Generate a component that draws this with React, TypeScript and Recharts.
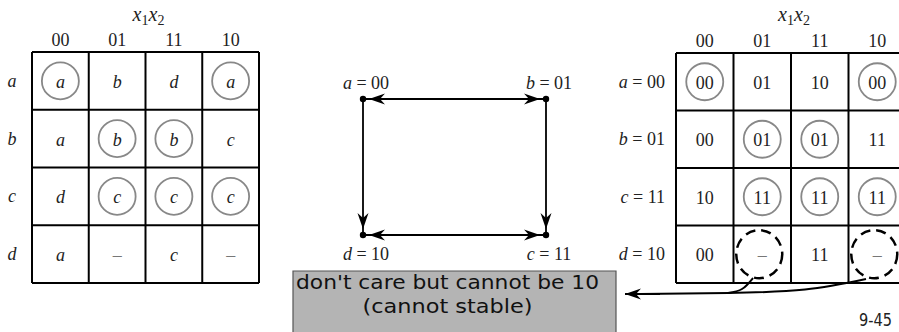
import { ScatterChart, Scatter, XAxis, YAxis, ReferenceLine, ReferenceArea } from "recharts";

// column heads (x1x2) and state codes, Gray-code order
const columnCodes = ["00", "01", "11", "10"];
const states = ["a", "b", "c", "d"];
const stateCodes = ["00", "01", "11", "10"];

// primitive flow table (next state)
const flowTable = [
  ["a", "b", "d", "a"],
  ["a", "b", "b", "c"],
  ["d", "c", "c", "c"],
  ["a", "–", "c", "–"],
];

// same table after state assignment
const assignedTable = [
  ["00", "01", "10", "00"],
  ["00", "01", "01", "11"],
  ["10", "11", "11", "11"],
  ["00", "–", "11", "–"],
];

// transition diagram edges drawn in the figure (arrow at "to")
const transitions = [
  ["a", "b"],
  ["b", "a"],
  ["a", "d"],
  ["b", "c"],
  ["d", "c"],
  ["c", "d"],
];

const noteLines = ["don't care but cannot be 10", "(cannot stable)"];
const pageNumber = "9-45";

// ---- layout (slide units = pixels) ----
const W = 899;
const H = 332;
const LEFT_MAP = { x: 32, y: 52, cw: 56.75, rh: 57.75, labelX: 12 };
const RIGHT_MAP = { x: 676, y: 53, cw: 57.5, rh: 57.5, labelX: 665 };
const GRAPH = { x: [363, 546], y: [99, 235] };
const NOTE = { x1: 293, x2: 616, y1: 271, y2: 334 };
const SERIF = "'Liberation Serif', 'DejaVu Serif', serif";
const SANS = "'DejaVu Sans', 'Noto Sans', sans-serif";
const FS = 18;

type Item = { x: number; y: number; text?: string; italic?: boolean; mark?: string; kind?: string; row?: number };

function cellsFor(table: string[][], m: typeof LEFT_MAP, own: string[], italic: boolean): Item[] {
  const out: Item[] = [];
  table.forEach((row, r) =>
    row.forEach((v, c) => {
      let mark = "";
      if (v === own[r]) mark = "circle";
      else if (v === "–" && !italic) mark = "dashed";
      out.push({ x: m.x + (c + 0.5) * m.cw, y: m.y + (r + 0.5) * m.rh, text: v, italic: italic && v !== "–", mark });
    })
  );
  return out;
}

const leftCells = cellsFor(flowTable, LEFT_MAP, states, true);
const rightCells = cellsFor(assignedTable, RIGHT_MAP, stateCodes, false);

const headers: Item[] = [LEFT_MAP, RIGHT_MAP].flatMap((m) => [
  { x: m.x + 2 * m.cw + 3, y: 21, kind: "x1x2" },
  ...columnCodes.map((code, c) => ({ x: m.x + (c + 0.5) * m.cw, y: m.y - 6, text: code, kind: "col" })),
]);

const rowLabels: Item[] = [
  ...states.map((s, r) => ({ x: LEFT_MAP.labelX, y: LEFT_MAP.y + (r + 0.5) * LEFT_MAP.rh, text: s, kind: "leftRow" })),
  ...states.map((s, r) => ({ x: RIGHT_MAP.labelX, y: RIGHT_MAP.y + (r + 0.5) * RIGHT_MAP.rh, text: s, row: r, kind: "rightRow" })),
];

// node position from its code: first bit -> row, second bit -> column
const nodePos = (s: string) => {
  const code = stateCodes[states.indexOf(s)];
  return { x: GRAPH.x[Number(code[1])], y: GRAPH.y[Number(code[0])] };
};
const nodes: Item[] = states.map((s, i) => ({ ...nodePos(s), text: s, row: i }));

const tail1 = [
  { x: 753, y: 278 },
  { x: 742, y: 289 },
  { x: 728, y: 293 },
];
const tail2 = [
  { x: 866, y: 279 },
  { x: 805, y: 289.5 },
  { x: 728, y: 293 },
  { x: 640, y: 294 },
];

const gridSegments = (m: typeof LEFT_MAP) => {
  const segs: { x: number; y: number }[][] = [];
  for (let i = 0; i <= 4; i++) {
    segs.push([{ x: m.x + i * m.cw, y: m.y }, { x: m.x + i * m.cw, y: m.y + 4 * m.rh }]);
    segs.push([{ x: m.x, y: m.y + i * m.rh }, { x: m.x + 4 * m.cw, y: m.y + i * m.rh }]);
  }
  return segs;
};

const arrowShape = (gap: number) => (props: any) => {
  const { x1, y1, x2, y2 } = props;
  const dx = x2 - x1;
  const dy = y2 - y1;
  const len = Math.hypot(dx, dy) || 1;
  const ux = dx / len;
  const uy = dy / len;
  const tx = x2 - ux * gap;
  const ty = y2 - uy * gap;
  const L = 16;
  const hw = 5.5;
  const bx = tx - ux * L;
  const by = ty - uy * L;
  const nx = tx - ux * (L - 5);
  const ny = ty - uy * (L - 5);
  const pts = `${tx},${ty} ${bx - uy * hw},${by + ux * hw} ${nx},${ny} ${bx + uy * hw},${by - ux * hw}`;
  return (
    <g>
      <line x1={x1} y1={y1} x2={x2} y2={y2} stroke="#000" strokeWidth={1.8} />
      <polygon points={pts} fill="#000" />
    </g>
  );
};

const CellShape = (props: any) => {
  const { cx, cy, payload } = props;
  const p = payload as Item;
  return (
    <g>
      {p.mark === "circle" && <circle cx={cx} cy={cy} r={18.5} fill="none" stroke="#888" strokeWidth={1.8} />}
      {p.mark === "dashed" && (
        <ellipse cx={cx - 3} cy={cy} rx={23} ry={24} fill="none" stroke="#000" strokeWidth={2.5} strokeDasharray="10 6" />
      )}
      <text
        x={cx}
        y={cy + 1}
        textAnchor="middle"
        dominantBaseline="central"
        fontFamily={SERIF}
        fontSize={FS}
        fontStyle={p.italic ? "italic" : "normal"}
        fill={p.text === "–" ? "#777" : "#222"}
      >
        {p.text}
      </text>
    </g>
  );
};

const LabelShape = (props: any) => {
  const { cx, cy, payload } = props;
  const p = payload as Item;
  if (p.kind === "x1x2") {
    return (
      <text x={cx} y={cy} textAnchor="middle" fontFamily={SERIF} fontSize={20} fill="#222">
        <tspan fontStyle="italic">x</tspan>
        <tspan fontSize={14} dy={4}>1</tspan>
        <tspan fontStyle="italic" dy={-4}>x</tspan>
        <tspan fontSize={14} dy={4}>2</tspan>
      </text>
    );
  }
  if (p.kind === "col") {
    return (
      <text x={cx} y={cy} textAnchor="middle" fontFamily={SERIF} fontSize={FS} fill="#222">
        {p.text}
      </text>
    );
  }
  if (p.kind === "leftRow") {
    return (
      <text x={cx} y={cy} textAnchor="middle" dominantBaseline="central" fontFamily={SERIF} fontSize={FS} fontStyle="italic" fill="#222">
        {p.text}
      </text>
    );
  }
  return (
    <text x={cx} y={cy} textAnchor="end" dominantBaseline="central" fontFamily={SERIF} fontSize={FS} fill="#222">
      <tspan fontStyle="italic">{p.text}</tspan>
      {` = ${stateCodes[p.row ?? 0]}`}
    </text>
  );
};

const NodeShape = (props: any) => {
  const { cx, cy, payload } = props;
  const p = payload as Item;
  const top = stateCodes[p.row ?? 0][0] === "0";
  return (
    <g>
      <circle cx={cx} cy={cy} r={3.2} fill="#000" />
      <text
        x={cx + 3}
        y={top ? cy - 16 : cy + 19}
        textAnchor="middle"
        dominantBaseline="central"
        fontFamily={SERIF}
        fontSize={FS}
        fill="#222"
      >
        <tspan fontStyle="italic">{p.text}</tspan>
        {`  = ${stateCodes[p.row ?? 0]}`}
      </text>
    </g>
  );
};

const NoteShape = (props: any) => {
  const { cx, cy } = props;
  return (
    <g fontFamily={SANS} fontSize={20} fill="#111">
      <text x={cx} y={cy - 4} textAnchor="middle" textLength={303} lengthAdjust="spacingAndGlyphs">
        {noteLines[0]}
      </text>
      <text x={cx} y={cy + 20} textAnchor="middle" textLength={170} lengthAdjust="spacingAndGlyphs">
        {noteLines[1]}
      </text>
    </g>
  );
};

const PageShape = (props: any) => (
  <text x={props.cx} y={props.cy} fontFamily={SANS} fontSize={17} fill="#222" textLength={33} lengthAdjust="spacingAndGlyphs">
    {pageNumber}
  </text>
);

const Empty = () => <g />;

export default function App() {
  const grids = [...gridSegments(LEFT_MAP), ...gridSegments(RIGHT_MAP)];
  return (
    <div style={{ position: "absolute", left: 0, top: 0, width: W, height: H, background: "#fff" }}>
      <ScatterChart width={W} height={H} margin={{ top: 0, right: 0, bottom: 0, left: 0 }}>
        <XAxis type="number" dataKey="x" domain={[0, W]} hide />
        <YAxis type="number" dataKey="y" domain={[0, H]} reversed hide />
        <ReferenceArea
          x1={NOTE.x1}
          x2={NOTE.x2}
          y1={NOTE.y1}
          y2={NOTE.y2}
          fill="#b4b4b4"
          fillOpacity={1}
          stroke="#555"
          strokeWidth={1.2}
          ifOverflow="visible"
        />
        {grids.map((seg, i) => (
          <ReferenceLine key={`g${i}`} segment={seg} stroke="#000" strokeWidth={2} ifOverflow="visible" />
        ))}
        {transitions.map(([from, to], i) => (
          <ReferenceLine
            key={`t${i}`}
            segment={[nodePos(from), nodePos(to)]}
            ifOverflow="visible"
            shape={arrowShape(6)}
          />
        ))}
        <ReferenceLine
          segment={[{ x: 660, y: 294 }, { x: 625, y: 294 }]}
          ifOverflow="visible"
          shape={arrowShape(0)}
        />
        <Scatter data={tail1} isAnimationActive={false} line={{ stroke: "#000", strokeWidth: 2 }} lineJointType="natural" shape={Empty} />
        <Scatter data={tail2} isAnimationActive={false} line={{ stroke: "#000", strokeWidth: 2 }} lineJointType="natural" shape={Empty} />
        <Scatter data={[...leftCells, ...rightCells]} isAnimationActive={false} shape={CellShape} />
        <Scatter data={[...headers, ...rowLabels]} isAnimationActive={false} shape={LabelShape} />
        <Scatter data={nodes} isAnimationActive={false} shape={NodeShape} />
        <Scatter data={[{ x: (NOTE.x1 + NOTE.x2) / 2 - 7, y: 293 }]} isAnimationActive={false} shape={NoteShape} />
        <Scatter data={[{ x: 859, y: 326 }]} isAnimationActive={false} shape={PageShape} />
      </ScatterChart>
    </div>
  );
}
